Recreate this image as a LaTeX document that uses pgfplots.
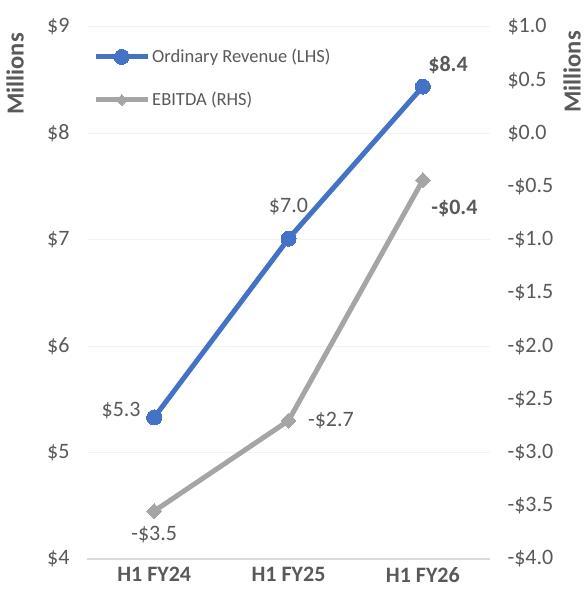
\documentclass[border=0pt]{standalone}
\usepackage{fontspec}
\setmainfont{Carlito}
\usepackage{pgfplots}
\pgfplotsset{compat=1.18}
\definecolor{rev}{HTML}{4472C4}
\definecolor{ebit}{HTML}{A5A5A5}
\definecolor{txt}{HTML}{595959}
\definecolor{gridc}{HTML}{F2F2F2}
\definecolor{base}{HTML}{D9D9D9}
\begin{document}
\begin{tikzpicture}
\pgfplotsset{
  common/.style={scale only axis, width=403pt, height=532pt,
    xmin=-0.5, xmax=2.5, xtick={0,1,2},
    major tick length=0pt, tick style={draw=none},
    ticklabel style={font=\fontsize{22}{24}\selectfont, text=txt},
  },
  revstyle/.style={rev, line width=5pt, mark=*, mark size=7.5pt, mark options={solid, fill=rev, draw=rev, line width=0pt}},
  ebitstyle/.style={ebit, line width=5pt, mark=square*, mark size=5.3pt, mark options={solid, rotate=45, fill=ebit, draw=ebit, line width=0pt}},
}
\begin{axis}[common,
  ymin=4, ymax=9, ytick={4,5,6,7,8,9},
  yticklabels={\$4,\$5,\$6,\$7,\$8,\$9},
  axis x line*=bottom, axis y line*=left,
  x axis line style={draw=base, line width=1.5pt, -},
  y axis line style={draw=none},
  ymajorgrids, grid style={gridc, line width=1pt},
  xticklabels={H1 FY24, H1 FY25, H1 FY26},
  xticklabel style={font=\fontsize{22}{24}\selectfont\bfseries, yshift=-5pt},
  yticklabel style={xshift=-14pt},
  legend style={at={(0.015,0.962)}, anchor=north west, draw=none, fill=none,
    font=\fontsize{18.5}{20}\selectfont, text=txt, row sep=24pt,
    cells={anchor=west}, inner sep=0pt},
  legend image code/.code={\draw[mark repeat=2,mark phase=2,#1] plot coordinates {(0pt,0pt)(26pt,0pt)(52pt,0pt)};},
]
\addplot[revstyle] coordinates {(0,5.33) (1,7.01) (2,8.44)};
\addlegendentry{Ordinary Revenue (LHS)}
\addlegendimage{ebitstyle, mark size=3.8pt}
\addlegendentry{EBITDA (RHS)}
\node[anchor=east, text=txt, font=\fontsize{22}{24}\selectfont] at (axis cs:0,5.33) [xshift=-10pt, yshift=7pt] {\$5.3};
\node[anchor=south, text=txt, font=\fontsize{22}{24}\selectfont] at (axis cs:1,7.01) [yshift=20pt] {\$7.0};
\node[anchor=south west, text=txt, font=\fontsize{22}{24}\selectfont\bfseries] at (axis cs:2,8.44) [xshift=2pt, yshift=9pt] {\$8.4};
\end{axis}
\begin{axis}[common,
  ymin=-4, ymax=1, ytick={-4,-3.5,-3,-2.5,-2,-1.5,-1,-0.5,0,0.5,1},
  yticklabels={-\$4.0,-\$3.5,-\$3.0,-\$2.5,-\$2.0,-\$1.5,-\$1.0,-\$0.5,\$0.0,\$0.5,\$1.0},
  axis y line*=right, axis x line=none,
  y axis line style={draw=none},
  yticklabel style={xshift=14pt},
]
\addplot[ebitstyle] coordinates {(0,-3.55) (1,-2.70) (2,-0.44)};
\node[anchor=north, text=txt, font=\fontsize{22}{24}\selectfont] at (axis cs:0,-3.55) [yshift=-12pt] {-\$3.5};
\node[anchor=west, text=txt, font=\fontsize{22}{24}\selectfont] at (axis cs:1,-2.70) [xshift=16pt] {-\$2.7};
\node[anchor=north west, text=txt, font=\fontsize{22}{24}\selectfont\bfseries] at (axis cs:2,-0.44) [xshift=5pt, yshift=-16pt] {-\$0.4};
\end{axis}
\node[rotate=90, text=txt, font=\fontsize{24.5}{26}\selectfont\bfseries] at ([xshift=-72pt,yshift=-47pt]current axis.north west) {Millions};
\node[rotate=90, text=txt, font=\fontsize{24.5}{26}\selectfont\bfseries] at ([xshift=82pt,yshift=-45pt]current axis.north east) {Millions};
\coordinate (bba) at ([xshift=-87pt,yshift=-40pt]current axis.south west);
\coordinate (bbb) at ([xshift=98pt,yshift=27pt]current axis.north east);
\pgfresetboundingbox
\path[use as bounding box] (bba) rectangle (bbb);
\end{tikzpicture}
\end{document}
